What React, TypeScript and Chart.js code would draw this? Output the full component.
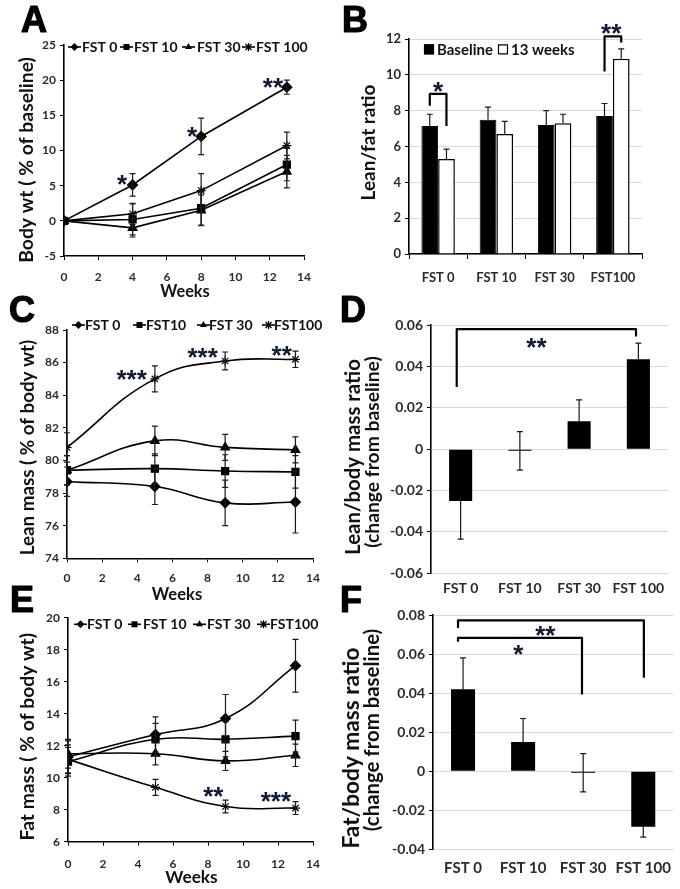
import React, { useEffect, useRef } from 'react';
import { Chart, registerables } from 'chart.js';

Chart.register(...registerables);

const FONT = 'Lato, "Open Sans", "DejaVu Sans", sans-serif';
const LETTER_FONT = 'bold 36px "Liberation Sans", Arial, sans-serif';
const STAR_FONT = 'bold 26px "Liberation Sans", Arial, sans-serif';
const TICK_COLOR = '#2b2b2b';
const GRID = '#d9d9d9';

// ---------------- Panel A: body weight (% of baseline) ----------------
const weeksA = [0, 4, 8, 13];
const bodyWtFst0 = [0, 5.1, 12.0, 19.0];
const bodyWtFst0Err = [0, 1.6, 2.6, 1.0];
const bodyWtFst10 = [0, 0.2, 1.8, 8.0];
const bodyWtFst10Err = [0, 2.2, 2.4, 2.3];
const bodyWtFst30 = [0, -1.0, 1.5, 7.0];
const bodyWtFst30Err = [0, 1.3, 2.2, 2.3];
const bodyWtFst100 = [0, 1.0, 4.3, 10.7];
const bodyWtFst100Err = [0, 1.5, 2.4, 1.9];
const seriesNamesA = ['FST 0', 'FST 10', 'FST 30', 'FST 100'];

// ---------------- Panel B: lean/fat ratio ----------------
const groupsB = ['FST 0', 'FST 10', 'FST 30', 'FST100'];
const leanFatBaseline = [7.15, 7.5, 7.2, 7.7];
const leanFatBaselineErr = [0.65, 0.7, 0.8, 0.7];
const leanFat13wk = [5.3, 6.7, 7.3, 10.9];
const leanFat13wkErr = [0.55, 0.7, 0.5, 0.55];
const seriesNamesB = ['Baseline', '13 weeks'];

// ---------------- Panel C: lean mass (% of body wt) ----------------
const weeksC = [0, 5, 9, 13];
const leanFst0 = [78.7, 78.4, 77.4, 77.45];
const leanFst0Err = [0.9, 1.1, 1.4, 1.9];
const leanFst10 = [79.4, 79.5, 79.35, 79.3];
const leanFst10Err = [0.9, 0.9, 1.0, 1.0];
const leanFst30 = [79.4, 81.2, 80.8, 80.65];
const leanFst30Err = [0.9, 0.9, 0.8, 0.8];
const leanFst100 = [80.8, 85.0, 86.1, 86.2];
const leanFst100Err = [0.9, 0.8, 0.55, 0.5];
const seriesNamesC = ['FST 0', 'FST10', 'FST 30', 'FST100'];

// ---------------- Panel D: lean/body mass ratio change ----------------
const groupsDF = ['FST 0', 'FST 10', 'FST 30', 'FST 100'];
const leanRatioChange = [-0.025, -0.0008, 0.0135, 0.0435];
const leanRatioErr = [0.0185, 0.0093, 0.0103, 0.0077];

// ---------------- Panel E: fat mass (% of body wt) ----------------
const weeksE = [0, 5, 9, 13];
const fatFst0 = [11.3, 12.7, 13.7, 17.0];
const fatFst0Err = [1.0, 1.1, 1.5, 1.65];
const fatFst10 = [11.0, 12.4, 12.4, 12.6];
const fatFst10Err = [0.9, 1.0, 1.1, 1.0];
const fatFst30 = [11.5, 11.5, 11.05, 11.4];
const fatFst30Err = [0.9, 0.7, 0.6, 0.7];
const fatFst100 = [11.15, 9.4, 8.2, 8.1];
const fatFst100Err = [0.9, 0.5, 0.4, 0.4];
const seriesNamesE = ['FST 0', 'FST 10', 'FST 30', 'FST100'];

// ---------------- Panel F: fat/body mass ratio change ----------------
const fatRatioChange = [0.042, 0.015, -0.0008, -0.0285];
const fatRatioErr = [0.016, 0.012, 0.0098, 0.0053];

const markerStyles = ['rectRot', 'rect', 'triangle', 'star'];

// ---------------- drawing helpers ----------------
type TextItem = { text: string; x: number; y: number; len?: number; size?: number; rot?: boolean; letter?: boolean };
type Bracket = { x1: number; x2: number; y1: number; y2: number; top: number };
type Star = { x: number; y: number; text: string };
type Annot = {
  texts?: TextItem[];
  brackets?: Bracket[];
  stars?: Star[];
  lineLegend?: { y: number; xs: number[]; tx: number[]; size: number };
  boxLegend?: { y: number; xs: number[]; tx: number[]; size: number };
};

function drawMarker(ctx: CanvasRenderingContext2D, style: string, x: number, y: number, r: number) {
  ctx.save();
  ctx.fillStyle = '#000';
  ctx.strokeStyle = '#000';
  ctx.lineWidth = 1.3;
  ctx.beginPath();
  if (style === 'rectRot') {
    ctx.moveTo(x, y - r); ctx.lineTo(x + r, y); ctx.lineTo(x, y + r); ctx.lineTo(x - r, y); ctx.closePath(); ctx.fill();
  } else if (style === 'rect') {
    const s = r * 0.75;
    ctx.rect(x - s, y - s, 2 * s, 2 * s); ctx.fill();
  } else if (style === 'triangle') {
    ctx.moveTo(x, y - r); ctx.lineTo(x + r * 0.87, y + r * 0.5); ctx.lineTo(x - r * 0.87, y + r * 0.5); ctx.closePath(); ctx.fill();
  } else {
    const d = r * 0.75;
    ctx.moveTo(x - d, y - d); ctx.lineTo(x + d, y + d);
    ctx.moveTo(x + d, y - d); ctx.lineTo(x - d, y + d);
    ctx.moveTo(x, y - r); ctx.lineTo(x, y + r);
    ctx.stroke();
  }
  ctx.restore();
}

function centeredBaseline(ctx: CanvasRenderingContext2D, s: string, cy: number) {
  const m = ctx.measureText(s);
  return cy + (m.actualBoundingBoxAscent - m.actualBoundingBoxDescent) / 2;
}

function drawText(ctx: CanvasRenderingContext2D, t: TextItem) {
  ctx.save();
  ctx.fillStyle = '#000';
  if (t.letter) {
    ctx.font = LETTER_FONT;
    ctx.textAlign = 'left';
    ctx.textBaseline = 'alphabetic';
    ctx.lineWidth = 1.2;
    ctx.strokeStyle = '#000';
    ctx.strokeText(t.text, t.x, t.y);
    ctx.fillText(t.text, t.x, t.y);
    ctx.restore();
    return;
  }
  let size = t.size ?? 17;
  ctx.font = `bold ${size}px ${FONT}`;
  if (t.len) {
    const m = ctx.measureText(t.text);
    const w = m.actualBoundingBoxLeft + m.actualBoundingBoxRight;
    size = (size * t.len) / w;
    ctx.font = `bold ${size}px ${FONT}`;
  }
  ctx.translate(t.x, t.y);
  if (t.rot) ctx.rotate(-Math.PI / 2);
  ctx.textAlign = 'center';
  ctx.textBaseline = 'alphabetic';
  ctx.fillStyle = '#111';
  ctx.fillText(t.text, 0, centeredBaseline(ctx, t.text, 0));
  ctx.restore();
}

const errorBars = {
  id: 'errorBars',
  afterDatasetsDraw(chart: any) {
    const ctx: CanvasRenderingContext2D = chart.ctx;
    ctx.save();
    chart.data.datasets.forEach((ds: any, i: number) => {
      if (!ds.errors) return;
      const meta = chart.getDatasetMeta(i);
      const ys = chart.scales[meta.yAxisID];
      ds.data.forEach((d: any, j: number) => {
        const e = ds.errors[j];
        if (!e) return;
        const v = typeof d === 'number' ? d : d.y;
        const el = meta.data[j];
        const x = el.x;
        let hi = v + e;
        let lo = v - e;
        if (ds.errUp) lo = v;
        if (ds.errAway && Math.abs(v) > e * 0.3) {
          if (v > 0) lo = v; else hi = v;
        }
        const top = ys.getPixelForValue(hi);
        const bot = ys.getPixelForValue(lo);
        const cap = ds.errCap ?? 3;
        ctx.strokeStyle = '#1a1a1a';
        ctx.lineWidth = 1.2;
        ctx.beginPath();
        ctx.moveTo(x, top); ctx.lineTo(x, bot);
        if (hi !== v) { ctx.moveTo(x - cap, top); ctx.lineTo(x + cap, top); }
        if (lo !== v) { ctx.moveTo(x - cap, bot); ctx.lineTo(x + cap, bot); }
        ctx.stroke();
      });
    });
    ctx.restore();
  },
};

const mkAnnot = (o: Annot) => ({
  id: 'annot',
  afterDraw(chart: any) {
    const ctx: CanvasRenderingContext2D = chart.ctx;
    const xs = chart.scales.x;
    const ys = chart.scales.y;
    ctx.save();
    ctx.strokeStyle = '#000';
    ctx.lineWidth = 2.2;
    ctx.lineJoin = 'round';
    for (const b of o.brackets || []) {
      const X1 = xs.getPixelForValue(b.x1), X2 = xs.getPixelForValue(b.x2);
      const Y1 = ys.getPixelForValue(b.y1), Y2 = ys.getPixelForValue(b.y2), T = ys.getPixelForValue(b.top);
      ctx.beginPath();
      ctx.moveTo(X1, Y1); ctx.lineTo(X1, T); ctx.lineTo(X2, T); ctx.lineTo(X2, Y2);
      ctx.stroke();
    }
    ctx.fillStyle = '#0f1a33';
    ctx.font = STAR_FONT;
    ctx.textAlign = 'center';
    ctx.textBaseline = 'alphabetic';
    for (const s of o.stars || []) {
      const cx = xs.getPixelForValue(s.x), cy = ys.getPixelForValue(s.y);
      ctx.fillText(s.text, cx, centeredBaseline(ctx, s.text, cy));
    }
    for (const t of o.texts || []) drawText(ctx, t);
    if (o.lineLegend) {
      const L = o.lineLegend;
      chart.data.datasets.forEach((ds: any, i: number) => {
        const x0 = L.xs[i];
        ctx.strokeStyle = '#000';
        ctx.lineWidth = 1.6;
        ctx.beginPath(); ctx.moveTo(x0, L.y); ctx.lineTo(x0 + 13, L.y); ctx.stroke();
        drawMarker(ctx, ds.pointStyle, x0 + 6.5, L.y, 4);
        ctx.font = `bold ${L.size}px ${FONT}`;
        ctx.fillStyle = '#111';
        ctx.textAlign = 'left';
        ctx.textBaseline = 'alphabetic';
        ctx.fillText(ds.label, L.tx[i], centeredBaseline(ctx, ds.label, L.y));
      });
    }
    if (o.boxLegend) {
      const L = o.boxLegend;
      chart.data.datasets.forEach((ds: any, i: number) => {
        const x0 = L.xs[i];
        ctx.fillStyle = ds.backgroundColor;
        ctx.fillRect(x0, L.y - 5, 10, 10);
        ctx.strokeStyle = '#000';
        ctx.lineWidth = 1.2;
        ctx.strokeRect(x0 + 0.5, L.y - 4.5, 9, 9);
        ctx.font = `bold ${L.size}px ${FONT}`;
        ctx.fillStyle = '#111';
        ctx.textAlign = 'left';
        ctx.textBaseline = 'alphabetic';
        ctx.fillText(ds.label, L.tx[i], centeredBaseline(ctx, ds.label, L.y));
      });
    }
    ctx.restore();
  },
});

const tickFont = (size: number) => ({ family: FONT, size, weight: 'bold' as const });
const fmt2 = (v: any) => (Math.abs(Number(v)) < 1e-9 ? '0' : Number(v).toFixed(2));

function yScale(min: number, max: number, step: number, width: number, size: number, grid: boolean, fmt?: (v: any) => string) {
  return {
    min,
    max,
    ticks: { stepSize: step, font: tickFont(size), color: TICK_COLOR, padding: 4, ...(fmt ? { callback: fmt } : {}) },
    grid: { display: true, drawOnChartArea: grid, color: GRID, lineWidth: 1, tickColor: '#000', tickLength: 4 },
    border: { display: true, color: '#000', width: 1.6 },
    afterFit: (s: any) => { s.width = width; },
  };
}

function weekScale(height: number, pad: number) {
  return {
    type: 'linear' as const,
    min: 0,
    max: 14,
    ticks: { stepSize: 2, font: tickFont(12), color: TICK_COLOR, padding: pad, maxRotation: 0, minRotation: 0 },
    grid: { display: true, drawOnChartArea: false, tickColor: '#000', tickLength: 4 },
    border: { display: true, color: '#000', width: 1.6 },
    afterFit: (s: any) => { s.height = height; },
  };
}

function catScale(height: number, size: number, pad: number, ticksMarks: boolean, mirror = false) {
  return {
    ticks: { font: tickFont(size), color: TICK_COLOR, padding: pad, maxRotation: 0, minRotation: 0, autoSkip: false, mirror },
    grid: ticksMarks
      ? { display: true, drawOnChartArea: false, tickColor: '#000', tickLength: 5 }
      : { display: false },
    border: { display: ticksMarks, color: '#000', width: 1.6 },
    afterFit: (s: any) => { s.height = height; },
  };
}

function lineDs(label: string, xs: number[], ys: number[], errs: number[], style: string, tension: number) {
  return {
    label,
    data: xs.map((x, i) => ({ x, y: ys[i] })),
    errors: errs,
    borderColor: '#000',
    borderWidth: 1.6,
    pointStyle: style,
    pointRadius: style === 'star' ? 4.5 : 5,
    pointBackgroundColor: '#000',
    pointBorderColor: '#000',
    pointBorderWidth: 1.2,
    tension,
    fill: false,
  };
}

const baseOpts = (padding: any) => ({
  responsive: false,
  animation: false as const,
  layout: { padding },
  plugins: { legend: { display: false }, tooltip: { enabled: false } },
});

// ---------------- chart builders ----------------
const buildA = () => ({
  type: 'line' as const,
  data: {
    datasets: [
      lineDs(seriesNamesA[0], weeksA, bodyWtFst0, bodyWtFst0Err, markerStyles[0], 0),
      lineDs(seriesNamesA[1], weeksA, bodyWtFst10, bodyWtFst10Err, markerStyles[1], 0),
      lineDs(seriesNamesA[2], weeksA, bodyWtFst30, bodyWtFst30Err, markerStyles[2], 0),
      lineDs(seriesNamesA[3], weeksA, bodyWtFst100, bodyWtFst100Err, markerStyles[3], 0),
    ],
  },
  options: {
    ...baseOpts({ left: 0, top: 45, right: 36, bottom: 0 }),
    scales: { x: weekScale(44, 10), y: yScale(-5, 25, 5, 64, 12, false) },
  },
  plugins: [
    errorBars,
    mkAnnot({
      texts: [
        { text: 'A', x: 21, y: 32, letter: true },
        { text: 'Body wt ( % of baseline)', x: 27, y: 160, len: 205, rot: true },
        { text: 'Weeks', x: 185, y: 290, len: 49 },
      ],
      stars: [
        { x: 3.38, y: 5.8, text: '*' },
        { x: 7.47, y: 12.6, text: '*' },
        { x: 12.19, y: 19.6, text: '**' },
      ],
      lineLegend: { y: 47, xs: [68, 120, 182, 242], tx: [82, 134, 197, 256], size: 14 },
    }),
  ],
});

const buildB = () => ({
  type: 'bar' as const,
  data: {
    labels: groupsB,
    datasets: [
      { label: seriesNamesB[0], data: leanFatBaseline, errors: leanFatBaselineErr, errUp: true, backgroundColor: '#000', borderColor: '#000', borderWidth: 1, barPercentage: 1, categoryPercentage: 0.574 },
      { label: seriesNamesB[1], data: leanFat13wk, errors: leanFat13wkErr, errUp: true, backgroundColor: '#fff', borderColor: '#000', borderWidth: 1.5, barPercentage: 1, categoryPercentage: 0.574 },
    ],
  },
  options: {
    ...baseOpts({ left: 0, top: 39, right: 38, bottom: 0 }),
    scales: {
      x: catScale(46, 13, 11, true),
      y: yScale(0, 12, 2, 69, 13, true),
    },
  },
  plugins: [
    errorBars,
    mkAnnot({
      texts: [
        { text: 'B', x: 2, y: 32, letter: true },
        { text: 'Lean/fat ratio', x: 28, y: 142.5, len: 115, rot: true },
      ],
      brackets: [
        { x1: -0.143, x2: 0.143, y1: 8.27, y2: 7.15, top: 8.94 },
        { x1: 2.857, x2: 3.143, y1: 10.18, y2: 11.8, top: 12.15 },
      ],
      stars: [
        { x: 0, y: 9.3, text: '*' },
        { x: 2.97, y: 12.57, text: '**' },
      ],
      boxLegend: { y: 49.3, xs: [84, 158], tx: [97, 171], size: 15 },
    }),
  ],
});

const buildC = () => ({
  type: 'line' as const,
  data: {
    datasets: [
      lineDs(seriesNamesC[0], weeksC, leanFst0, leanFst0Err, markerStyles[0], 0.45),
      lineDs(seriesNamesC[1], weeksC, leanFst10, leanFst10Err, markerStyles[1], 0.45),
      lineDs(seriesNamesC[2], weeksC, leanFst30, leanFst30Err, markerStyles[2], 0.45),
      lineDs(seriesNamesC[3], weeksC, leanFst100, leanFst100Err, markerStyles[3], 0.45),
    ],
  },
  options: {
    ...baseOpts({ left: 0, top: 40, right: 27, bottom: 0 }),
    scales: { x: weekScale(41.7, 9), y: yScale(74, 88, 2, 67, 12, false) },
  },
  plugins: [
    errorBars,
    mkAnnot({
      texts: [
        { text: 'C', x: 9, y: 32, letter: true },
        { text: 'Lean mass ( % of body wt)', x: 27.7, y: 157.5, len: 215, rot: true },
        { text: 'Weeks', x: 177, y: 303, len: 50 },
      ],
      stars: [
        { x: 3.68, y: 85.25, text: '***' },
        { x: 7.72, y: 86.57, text: '***' },
        { x: 12.22, y: 86.72, text: '**' },
      ],
      lineLegend: { y: 35, xs: [72, 133, 197, 262], tx: [85, 146, 209, 274], size: 14 },
    }),
  ],
});

const buildD = () => ({
  type: 'bar' as const,
  data: {
    labels: groupsDF,
    datasets: [
      { label: 'Lean/body mass ratio', data: leanRatioChange, errors: leanRatioErr, errAway: true, backgroundColor: '#000', borderColor: '#000', borderWidth: 0, barPercentage: 0.39, categoryPercentage: 1 },
    ],
  },
  options: {
    ...baseOpts({ left: 0, top: 35, right: 12, bottom: 0 }),
    scales: {
      x: catScale(21.7, 14, -24, false, true),
      y: yScale(-0.06, 0.06, 0.02, 91, 14, true, fmt2),
    },
  },
  plugins: [
    errorBars,
    mkAnnot({
      texts: [
        { text: 'D', x: 0, y: 32, letter: true },
        { text: 'Lean/body mass ratio', x: 14, y: 167, len: 195, rot: true },
        { text: '(change from baseline)', x: 33, y: 162, len: 192, rot: true },
      ],
      brackets: [{ x1: -0.066, x2: 2.96, y1: 0.03, y2: 0.0544, top: 0.058 }],
      stars: [{ x: 1.28, y: 0.0512, text: '**' }],
    }),
  ],
});

const buildE = () => ({
  type: 'line' as const,
  data: {
    datasets: [
      lineDs(seriesNamesE[0], weeksE, fatFst0, fatFst0Err, markerStyles[0], 0.45),
      lineDs(seriesNamesE[1], weeksE, fatFst10, fatFst10Err, markerStyles[1], 0.45),
      lineDs(seriesNamesE[2], weeksE, fatFst30, fatFst30Err, markerStyles[2], 0.45),
      lineDs(seriesNamesE[3], weeksE, fatFst100, fatFst100Err, markerStyles[3], 0.45),
    ],
  },
  options: {
    ...baseOpts({ left: 0, top: 32.7, right: 27, bottom: 0 }),
    scales: { x: weekScale(47.3, 11), y: yScale(6, 20, 2, 68, 12, false) },
  },
  plugins: [
    errorBars,
    mkAnnot({
      texts: [
        { text: 'E', x: 10, y: 27, letter: true },
        { text: 'Fat mass ( % of body wt)', x: 27.7, y: 151.7, len: 207, rot: true },
        { text: 'Weeks', x: 191.5, y: 291, len: 52 },
      ],
      stars: [
        { x: 8.3, y: 9.13, text: '**' },
        { x: 11.88, y: 8.81, text: '***' },
      ],
      lineLegend: { y: 39.3, xs: [74, 128, 193, 257], tx: [87, 143, 207, 270], size: 14 },
    }),
  ],
});

const buildF = () => ({
  type: 'bar' as const,
  data: {
    labels: groupsDF,
    datasets: [
      { label: 'Fat/body mass ratio', data: fatRatioChange, errors: fatRatioErr, errAway: true, backgroundColor: '#000', borderColor: '#000', borderWidth: 0, barPercentage: 0.4, categoryPercentage: 1 },
    ],
  },
  options: {
    ...baseOpts({ left: 0, top: 30, right: 6.7, bottom: 0 }),
    scales: {
      x: catScale(39.7, 15, 2, false),
      y: yScale(-0.04, 0.08, 0.02, 93, 14, true, fmt2),
    },
  },
  plugins: [
    errorBars,
    mkAnnot({
      texts: [
        { text: 'F', x: 0, y: 27, letter: true },
        { text: 'Fat/body mass ratio', x: 12.7, y: 163, len: 200, rot: true },
        { text: '(change from baseline)', x: 32.7, y: 145, len: 203, rot: true },
      ],
      brackets: [
        { x1: -0.084, x2: 3.01, y1: 0.0734, y2: 0.0478, top: 0.0772 },
        { x1: -0.084, x2: 1.98, y1: 0.0663, y2: 0.0393, top: 0.0683 },
      ],
      stars: [
        { x: 1.37, y: 0.0717, text: '**' },
        { x: 0.92, y: 0.0623, text: '*' },
      ],
    }),
  ],
});

function ChartPanel({ x, y, w, h, build }: { x: number; y: number; w: number; h: number; build: () => any }) {
  const ref = useRef<HTMLCanvasElement>(null);
  useEffect(() => {
    const chart = new Chart(ref.current as HTMLCanvasElement, build());
    return () => chart.destroy();
  }, [build]);
  return (
    <canvas
      ref={ref}
      width={w}
      height={h}
      style={{ position: 'absolute', left: x, top: y, width: w, height: h }}
    />
  );
}

export default function App() {
  return (
    <div style={{ position: 'absolute', left: 0, top: 0, width: 680, height: 889, background: '#fff', overflow: 'hidden' }}>
      <ChartPanel x={0} y={0} w={340} h={300} build={buildA} />
      <ChartPanel x={340} y={0} w={340} h={300} build={buildB} />
      <ChartPanel x={0} y={290} w={340} h={310} build={buildC} />
      <ChartPanel x={340} y={290} w={340} h={305} build={buildD} />
      <ChartPanel x={0} y={585} w={340} h={304} build={buildE} />
      <ChartPanel x={340} y={585} w={340} h={304} build={buildF} />
    </div>
  );
}
